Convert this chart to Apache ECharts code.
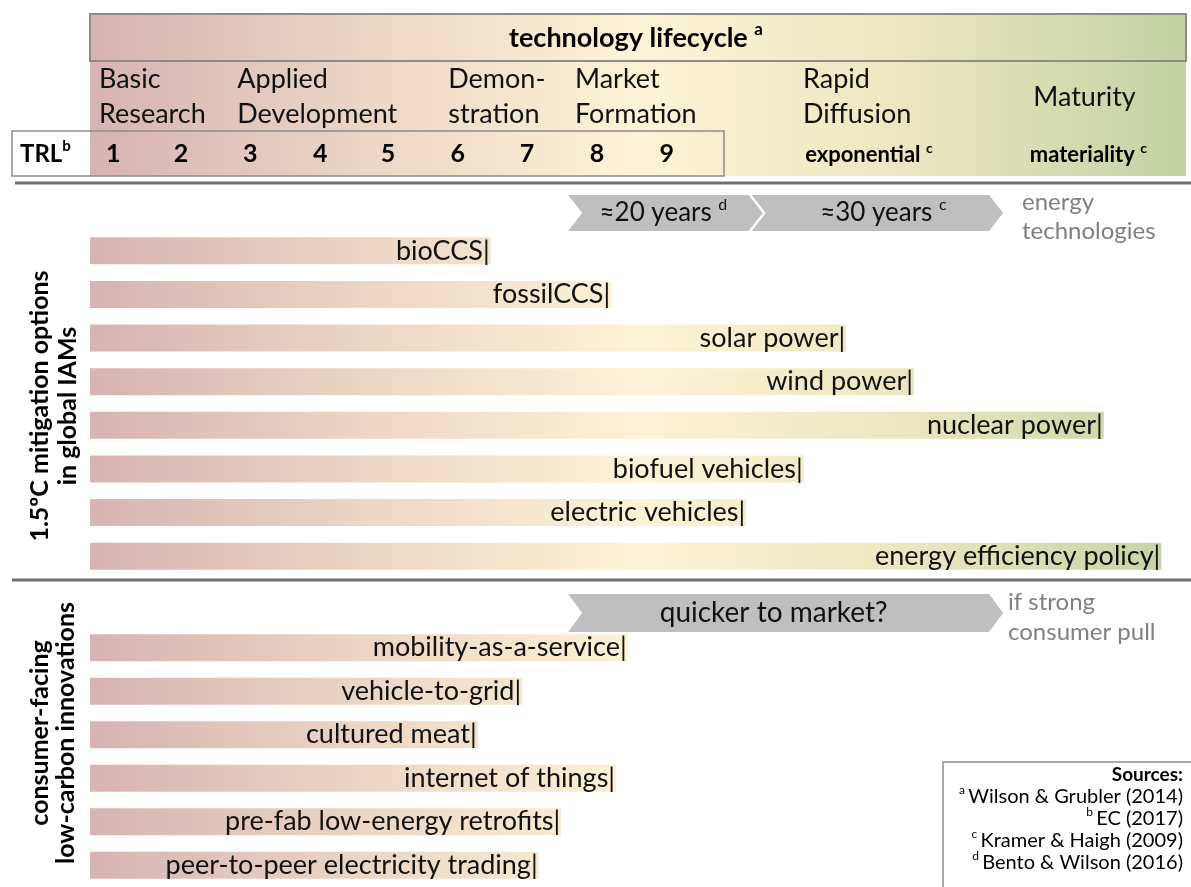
<!DOCTYPE html>
<html>
<head>
<meta charset="utf-8">
<script src="https://cdn.jsdelivr.net/npm/echarts@6/dist/echarts.min.js"></script>
<style>
  html, body { margin: 0; padding: 0; background: #fff; }
  #main { width: 1191px; height: 887px; }
</style>
</head>
<body>
<div id="main"></div>
<script>
// x axis unit = one TRL step along the lifecycle (0 = left edge of the lifecycle band)
var iamOptions = ['bioCCS', 'fossilCCS', 'solar power', 'wind power', 'nuclear power',
  'biofuel vehicles', 'electric vehicles', 'energy efficiency policy'];
var iamReach = [5.85, 7.61, 11.04, 12.03, 14.80, 10.42, 9.58, 15.64];

var consumerOptions = ['mobility-as-a-service', 'vehicle-to-grid', 'cultured meat',
  'internet of things', 'pre-fab low-energy retrofits', 'peer-to-peer electricity trading'];
var consumerReach = [7.85, 6.31, 5.66, 7.68, 6.88, 6.55];

var trlLabels = ['1', '2', '3', '4', '5', '6', '7', '8', '9'];
var trlPos = [0.34, 1.33, 2.34, 3.36, 4.35, 5.37, 6.38, 7.40, 8.42];

var stageLabels = ['Basic\nResearch', 'Applied\nDevelopment', 'Demon-\nstration',
  'Market\nFormation', 'Rapid\nDiffusion', 'Maturity'];
var stagePos = [0.13, 2.15, 5.23, 7.08, 10.41, 13.77];

var stageNotes = ['exponential', 'materiality'];
var stageNoteRefs = ['c', 'c'];
var stageNotePos = [10.44, 13.72];

var energyArrowText = ['≈20 years', '≈30 years'];
var energyArrowRefs = ['d', 'c'];
var energyArrowFrom = [6.98, 9.66];
var energyArrowTo = [9.82, 13.33];
var consumerArrowText = ['quicker to market?'];
var consumerArrowFrom = [6.98];
var consumerArrowTo = [13.33];

var sourceRefs = ['a', 'b', 'c', 'd'];
var sources = ['Wilson & Grubler (2014)', 'EC (2017)', 'Kramer & Haigh (2009)', 'Bento & Wilson (2016)'];

var FONT = 'Lato, "Open Sans", sans-serif';
var L = 90, R = 1186;

var lifecycle = {
  type: 'linear', x: L, y: 0, x2: R, y2: 0, global: true,
  colorStops: [
    { offset: 0, color: '#d7b3b3' },
    { offset: 0.25, color: '#ecd6c4' },
    { offset: 0.5, color: '#fdf3d6' },
    { offset: 0.74, color: '#ece7c1' },
    { offset: 1, color: '#c3d2a3' }
  ]
};

var chart = echarts.init(document.getElementById('main'), null, { renderer: 'canvas' });

function barSeries(idx, names, values) {
  return {
    type: 'bar',
    xAxisIndex: idx,
    yAxisIndex: idx,
    barWidth: 27,
    silent: true,
    itemStyle: { color: lifecycle },
    label: {
      show: true,
      position: 'insideRight',
      distance: 1,
      formatter: '{b}|',
      fontFamily: FONT,
      fontSize: 27,
      color: '#111'
    },
    data: values.map(function (v, i) { return { name: names[i], value: v }; })
  };
}

chart.setOption({
  animation: false,
  grid: [
    { left: L, right: 1191 - R, top: 229, height: 349 },
    { left: L, right: 1191 - R, top: 626, height: 264 }
  ],
  xAxis: [
    { gridIndex: 0, type: 'value', min: 0, max: 16, show: false },
    { gridIndex: 1, type: 'value', min: 0, max: 16, show: false }
  ],
  yAxis: [
    { gridIndex: 0, type: 'category', inverse: true, data: iamOptions, show: false },
    { gridIndex: 1, type: 'category', inverse: true, data: consumerOptions, show: false }
  ],
  series: [
    barSeries(0, iamOptions, iamReach),
    barSeries(1, consumerOptions, consumerReach)
  ]
});

function px(v) { return chart.convertToPixel({ xAxisIndex: 0 }, v); }

// rich text with a superscript footnote mark, before or after the text
function supText(txt, ref, size, bold, color, before) {
  var lh = Math.round(size * 1.25);
  var w = bold ? 'bold' : 'normal';
  return {
    text: before ? '{s|' + ref + '} {m|' + txt + '}' : '{m|' + txt + ' }{s|' + ref + '}',
    rich: {
      m: { fontSize: size, fontWeight: w, fontFamily: FONT, lineHeight: lh, fill: color },
      s: { fontSize: Math.round(size * 0.62), fontWeight: w, fontFamily: FONT, lineHeight: Math.round(size * 0.62), verticalAlign: 'top', fill: color }
    },
    fill: color
  };
}

function chevron(x0, x1, top, h, style, shift) {
  var d = 14, mid = top + h / 2;
  style.align = 'center';
  style.verticalAlign = 'middle';
  return [{
    type: 'polygon',
    shape: { points: [[x0, top], [x1 - d, top], [x1, mid], [x1 - d, top + h], [x0, top + h], [x0 + d, mid]] },
    style: { fill: '#bfbfbf' }
  }, {
    type: 'text', x: (x0 + x1) / 2 + shift, y: mid, style: style
  }];
}

var g = [];
// header band
g.push({ type: 'rect', shape: { x: L, y: 14, width: R - L, height: 162 }, style: { fill: lifecycle } });
g.push({ type: 'rect', shape: { x: L, y: 14, width: R - L, height: 47 }, style: { fill: 'none', stroke: '#8c8c8c', lineWidth: 2 } });
g.push({ type: 'rect', shape: { x: 12, y: 131, width: L - 12, height: 45 }, style: { fill: '#fff' } });
g.push({ type: 'rect', shape: { x: 12, y: 131, width: 712, height: 45 }, style: { fill: 'none', stroke: '#8c8c8c', lineWidth: 1.5 } });

var title = supText('technology lifecycle', 'a', 27, true, '#000');
title.align = 'center'; title.verticalAlign = 'middle';
g.push({ type: 'text', x: 636, y: 38, style: title });
var trl = supText('TRL', 'b', 24, true, '#000');
trl.text = '{m|TRL}{s|b}';
trl.verticalAlign = 'middle';
g.push({ type: 'text', x: 20, y: 154, style: trl });

stageLabels.forEach(function (s, i) {
  g.push({
    type: 'text', x: px(stagePos[i]), y: 97,
    style: { text: s, font: '27px ' + FONT, lineHeight: 35, fill: '#111', verticalAlign: 'middle' }
  });
});
trlLabels.forEach(function (t, i) {
  g.push({ type: 'text', x: px(trlPos[i]), y: 154, style: { text: t, font: 'bold 25px ' + FONT, fill: '#000', align: 'center', verticalAlign: 'middle' } });
});
stageNotes.forEach(function (t, i) {
  var st = supText(t, stageNoteRefs[i], 22, true, '#000');
  st.verticalAlign = 'middle';
  g.push({ type: 'text', x: px(stageNotePos[i]), y: 155, style: st });
});

// separators
g.push({ type: 'line', shape: { x1: 15, y1: 183, x2: 1191, y2: 183 }, style: { stroke: '#6e6e6e', lineWidth: 3 } });
g.push({ type: 'line', shape: { x1: 12, y1: 580, x2: 1191, y2: 580 }, style: { stroke: '#6e6e6e', lineWidth: 3 } });

// diffusion arrows
energyArrowText.forEach(function (t, i) {
  g = g.concat(chevron(px(energyArrowFrom[i]), px(energyArrowTo[i]), 195, 36,
    supText(t, energyArrowRefs[i], 26, false, '#111'), i === 0 ? -2 : 6));
});
consumerArrowText.forEach(function (t, i) {
  g = g.concat(chevron(px(consumerArrowFrom[i]), px(consumerArrowTo[i]), 594, 38,
    { text: t, font: '28px ' + FONT, fill: '#111' }, -12));
});
g.push({ type: 'text', x: 1022, y: 217, style: { text: 'energy\ntechnologies', font: '24px ' + FONT, lineHeight: 29, fill: '#808080', verticalAlign: 'middle' } });
g.push({ type: 'text', x: 1008, y: 617, style: { text: 'if strong\nconsumer pull', font: '24px ' + FONT, lineHeight: 30, fill: '#808080', verticalAlign: 'middle' } });

// section titles
g.push({ type: 'text', x: 54, y: 406, rotation: Math.PI / 2,
  style: { text: '1.5ºC mitigation options\nin global IAMs', font: 'bold 25px ' + FONT, lineHeight: 28, fill: '#000', align: 'center', verticalAlign: 'middle' } });
g.push({ type: 'text', x: 53, y: 733, rotation: Math.PI / 2,
  style: { text: 'consumer-facing\nlow-carbon innovations', font: 'bold 25px ' + FONT, lineHeight: 26, fill: '#000', align: 'center', verticalAlign: 'middle' } });

// sources box
g.push({ type: 'rect', shape: { x: 943, y: 762, width: 260, height: 140 }, style: { fill: '#fff', stroke: '#8c8c8c', lineWidth: 1.5 } });
g.push({ type: 'text', x: 1183, y: 775, style: { text: 'Sources:', font: 'bold 19px ' + FONT, fill: '#000', align: 'right', verticalAlign: 'middle' } });
sources.forEach(function (s, i) {
  var st = supText(s, sourceRefs[i], 20, false, '#000', true);
  st.align = 'right'; st.verticalAlign = 'middle';
  g.push({ type: 'text', x: 1183, y: 797 + i * 22, style: st });
});

chart.setOption({ graphic: g });
</script>
</body>
</html>
